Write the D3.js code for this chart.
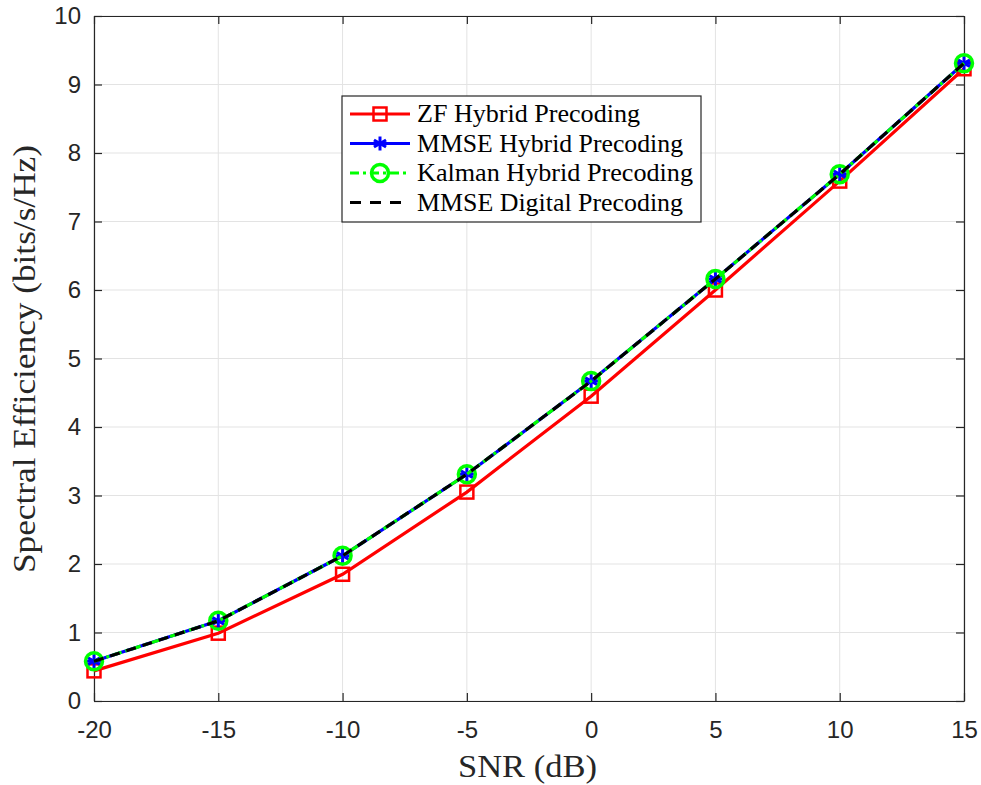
<!DOCTYPE html>
<html>
<head>
<meta charset="utf-8">
<script src="https://cdn.jsdelivr.net/npm/d3@7"></script>
<style>
  body { margin: 0; background: #fff; }
  svg { display: block; }
</style>
</head>
<body>
<div id="chart"></div>
<script>
const snr = [-20, -15, -10, -5, 0, 5, 10, 15];
const zfHybrid = [0.44, 0.99, 1.85, 3.05, 4.45, 6.0, 7.59, 9.23];
const mmseHybrid = [0.58, 1.17, 2.12, 3.31, 4.67, 6.16, 7.69, 9.31];
const kalmanHybrid = [0.58, 1.17, 2.12, 3.31, 4.67, 6.16, 7.69, 9.31];
const mmseDigital = [0.58, 1.17, 2.12, 3.31, 4.67, 6.16, 7.69, 9.31];
const xTicks = [-20, -15, -10, -5, 0, 5, 10, 15];
const yTicks = [0, 1, 2, 3, 4, 5, 6, 7, 8, 9, 10];

const series = [
  { name: "ZF Hybrid Precoding", values: zfHybrid, color: "#ff0000", dash: null, marker: "square", textW: 223 },
  { name: "MMSE Hybrid Precoding", values: mmseHybrid, color: "#0000ff", dash: null, marker: "asterisk", textW: 266 },
  { name: "Kalman Hybrid Precoding", values: kalmanHybrid, color: "#00ff00", dash: "9,4,3,4", marker: "circle", textW: 276 },
  { name: "MMSE Digital Precoding", values: mmseDigital, color: "#000000", dash: "10,7", marker: null, textW: 266 }
];

const width = 981, height = 785;
const margin = { left: 94, right: 17, top: 16, bottom: 84 };

const svg = d3.select("#chart").append("svg")
  .attr("width", width).attr("height", height);

const x = d3.scaleLinear().domain([-20, 15]).range([margin.left, width - margin.right]);
const y = d3.scaleLinear().domain([0, 10]).range([height - margin.bottom, margin.top]);

const axisColor = "#262626";
const tickFont = "'Liberation Sans', Arial, sans-serif";
const serif = "'Liberation Serif', 'Times New Roman', serif";

// grid
svg.append("g").selectAll("line").data(xTicks).enter().append("line")
  .attr("x1", d => x(d)).attr("x2", d => x(d))
  .attr("y1", y(0)).attr("y2", y(10))
  .attr("stroke", "#e3e3e3").attr("stroke-width", 1);
svg.append("g").selectAll("line").data(yTicks).enter().append("line")
  .attr("x1", x(-20)).attr("x2", x(15))
  .attr("y1", d => y(d)).attr("y2", d => y(d))
  .attr("stroke", "#e3e3e3").attr("stroke-width", 1);

// axes
const fmt = d => String(d);
svg.append("g")
  .attr("transform", `translate(0,${y(0)})`)
  .call(d3.axisBottom(x).tickValues(xTicks).tickFormat(fmt).tickSizeInner(-8).tickSizeOuter(0).tickPadding(20));
svg.append("g")
  .attr("transform", `translate(${x(-20)},0)`)
  .call(d3.axisLeft(y).tickValues(yTicks).tickFormat(fmt).tickSizeInner(-8).tickSizeOuter(0).tickPadding(13));
svg.append("g")
  .attr("transform", `translate(0,${y(10)})`)
  .call(d3.axisTop(x).tickValues(xTicks).tickSizeInner(-8).tickSizeOuter(0).tickFormat(""));
svg.append("g")
  .attr("transform", `translate(${x(15)},0)`)
  .call(d3.axisRight(y).tickValues(yTicks).tickSizeInner(-8).tickSizeOuter(0).tickFormat(""));

svg.selectAll(".domain, .tick line").attr("stroke", axisColor).attr("stroke-width", 1.2);
svg.selectAll(".tick text")
  .attr("fill", axisColor)
  .style("font-family", tickFont)
  .style("font-size", "24px");

// axis labels
svg.append("text")
  .attr("x", 458).attr("y", 777)
  .attr("textLength", 139).attr("lengthAdjust", "spacingAndGlyphs")
  .style("font-family", serif).style("font-size", "31px").attr("fill", axisColor)
  .text("SNR (dB)");
svg.append("text")
  .attr("transform", `translate(35,573) rotate(-90)`)
  .attr("textLength", 428).attr("lengthAdjust", "spacingAndGlyphs")
  .style("font-family", serif).style("font-size", "31px").attr("fill", axisColor)
  .text("Spectral Efficiency (bits/s/Hz)");

const line = d3.line().x((d, i) => x(snr[i])).y(d => y(d));

function drawMarker(g, type, color, cx, cy) {
  if (type === "square") {
    g.append("rect").attr("x", cx - 6.5).attr("y", cy - 6.5)
      .attr("width", 13).attr("height", 13)
      .attr("fill", "none").attr("stroke", color).attr("stroke-width", 2.5);
  } else if (type === "circle") {
    g.append("circle").attr("cx", cx).attr("cy", cy).attr("r", 8.5)
      .attr("fill", "none").attr("stroke", color).attr("stroke-width", 3.5);
  } else if (type === "asterisk") {
    const r = 7;
    [0, 60, 120].forEach(a => {
      const rad = a * Math.PI / 180 + Math.PI / 2;
      g.append("line")
        .attr("x1", cx - r * Math.cos(rad)).attr("y1", cy - r * Math.sin(rad))
        .attr("x2", cx + r * Math.cos(rad)).attr("y2", cy + r * Math.sin(rad))
        .attr("stroke", color).attr("stroke-width", 3);
    });
    g.append("line").attr("x1", cx - r).attr("x2", cx + r).attr("y1", cy).attr("y2", cy)
      .attr("stroke", color).attr("stroke-width", 3);
  }
}

series.forEach(s => {
  const g = svg.append("g");
  g.append("path").datum(s.values)
    .attr("d", line)
    .attr("fill", "none")
    .attr("stroke", s.color)
    .attr("stroke-width", 3.2)
    .attr("stroke-dasharray", s.dash);
  if (s.marker) {
    s.values.forEach((v, i) => drawMarker(g, s.marker, s.color, x(snr[i]), y(v)));
  }
});

// legend
const lg = svg.append("g").attr("transform", "translate(342,96)");
lg.append("rect").attr("width", 359).attr("height", 126)
  .attr("fill", "#fff").attr("stroke", axisColor).attr("stroke-width", 1.2);
series.forEach((s, i) => {
  const cy = 18 + i * 29.5;
  lg.append("line").attr("x1", 8).attr("x2", 68).attr("y1", cy).attr("y2", cy)
    .attr("stroke", s.color).attr("stroke-width", 3.2).attr("stroke-dasharray", s.dash ? (s.marker ? "9,4,3,4" : "11,9") : null);
  if (s.marker) drawMarker(lg, s.marker, s.color, 38, cy);
  lg.append("text").attr("x", 75).attr("y", cy + 8)
    .attr("textLength", s.textW).attr("lengthAdjust", "spacingAndGlyphs")
    .style("font-family", serif).style("font-size", "25px").attr("fill", "#000")
    .text(s.name);
});
</script>
</body>
</html>
